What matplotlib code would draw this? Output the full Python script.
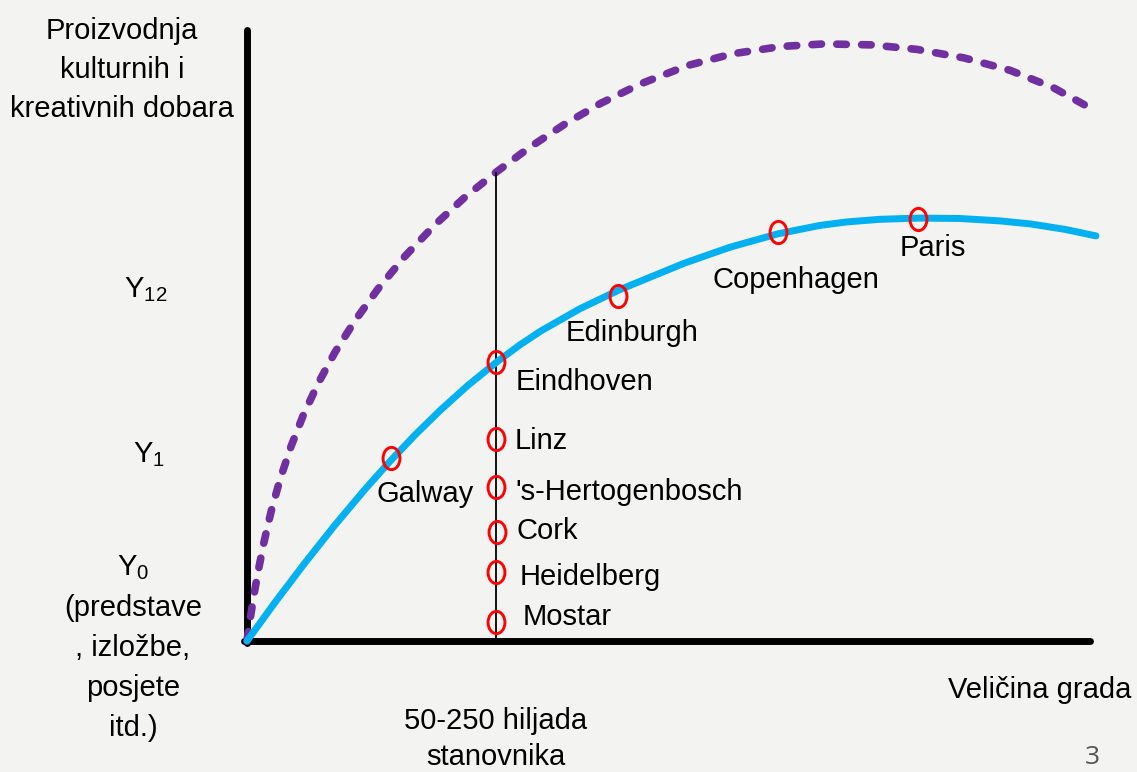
import numpy as np
import matplotlib

matplotlib.use("Agg")
import matplotlib.pyplot as plt
from matplotlib.path import Path
from matplotlib.transforms import Affine2D

plt.rcParams["font.family"] = ["Liberation Sans", "DejaVu Sans"]
plt.rcParams["mathtext.fontset"] = "custom"
plt.rcParams["mathtext.rm"] = "Liberation Sans"

# conceptual curves (x = city size, y = cultural production)
blue_x = [0, 28, 58, 88, 118, 143, 168, 193, 221, 249, 273, 294, 333, 372, 437,
          483, 531, 573, 600, 633, 672, 713, 753, 784, 818, 849]
blue_y = [0, 38.6, 78.2, 116, 151.7, 179.7, 206, 230.5, 255.7, 278.4, 296.2,
          310.1, 332.3, 351, 377.7, 393.8, 407.2, 415.6, 419.1, 421.7, 422.9,
          422.5, 420.1, 417, 411.6, 405.1]

purple_x = [0, 3, 7, 11, 17, 24, 33, 44, 56, 71, 88, 108, 131, 158, 188, 218, 250,
            283, 318, 353, 393, 441, 486, 534, 577, 625, 670, 717, 763, 806, 850]
purple_y = [0, 21, 46.2, 69, 99, 129.1, 161.5, 194.5, 225.1, 257.4, 288.8, 320.4,
            352.1, 384.8, 416.3, 443.9, 469.5, 493.9, 517, 537.3, 556.9, 575.6,
            587.3, 594.5, 597.1, 596.1, 591.6, 583.1, 570.7, 553.5, 529.3]

cities = ["Galway", "Eindhoven", "Edinburgh", "Copenhagen", "Paris",
          "Linz", "'s-Hertogenbosch", "Cork", "Heidelberg", "Mostar"]
city_x = [144, 249, 371, 531, 671, 249, 249, 250, 249, 249]
city_y = [183, 279, 345, 409, 422, 202, 154, 109, 69, 19]
# label offsets (left edge / baseline) relative to the marker
label_dx = [-14, 20, -52, -66, -18, 19, 19, 20, 24, 27]
label_dy = [-44, -28, -45, -56, -37, -10, -13, -7, -13, -3]

BG = "#f3f3f1"
fig = plt.figure(figsize=(11.37, 7.72), dpi=100, facecolor=BG)
ax = fig.add_axes([0, 0, 1, 1], facecolor=BG)
ax.set_xlim(-247, 890)
ax.set_ylim(-131, 641)

for s in ["top", "right"]:
    ax.spines[s].set_visible(False)
ax.spines["left"].set_position(("data", 0))
ax.spines["bottom"].set_position(("data", 0))
ax.spines["left"].set_bounds(-2, 611)
ax.spines["bottom"].set_bounds(-3, 843)
for s in ["left", "bottom"]:
    ax.spines[s].set_linewidth(5)
    ax.spines[s].set_capstyle("round")
    ax.spines[s].set_zorder(1)
ax.set_xticks([])
ax.set_yticks([])

ax.plot(purple_x, purple_y, color="#7030a0", lw=5.5, dashes=(1.25, 2.0),
        dash_capstyle="round", solid_joinstyle="round", zorder=2)
top = np.interp(city_x[1], purple_x, purple_y)
ax.vlines(city_x[1], 0, top, color="black", lw=1.3, zorder=2)
ax.plot(blue_x, blue_y, color="#00b0f0", lw=5, solid_capstyle="round",
        solid_joinstyle="round", zorder=3)

ellipse = Path.unit_circle().transformed(Affine2D().scale(0.76, 1.0))
ax.plot(city_x, city_y, ls="none", marker=ellipse, markersize=16,
        markerfacecolor="none", markeredgecolor="#ff0000", markeredgewidth=2.1,
        zorder=4)

fs = 21
for name, x, y, dx, dy in zip(cities, city_x, city_y, label_dx, label_dy):
    ax.text(x + dx, y + dy, name, fontsize=fs, ha="left", va="baseline")

ax.text(-125, 571, "Proizvodnja\nkulturnih i\nkreativnih dobara", fontsize=fs,
        ha="center", va="center", linespacing=1.5)

ax.text(-123, 344, r"$\mathregular{Y_{12}}$", fontsize=fs, ha="left", va="baseline")
ax.text(-114, 179, r"$\mathregular{Y_{1}}$", fontsize=fs, ha="left", va="baseline")
ax.text(-130, 66, r"$\mathregular{Y_{0}}$", fontsize=fs, ha="left", va="baseline")
ax.text(-114, -27, "(predstave\n, izložbe,\nposjete\nitd.)", fontsize=fs,
        ha="center", va="center", linespacing=1.55)

ax.text(793, -49, "Veličina grada", fontsize=fs, ha="center", va="center")
ax.text(249, -98, "50-250 hiljada\nstanovnika", fontsize=fs, ha="center",
        va="center", linespacing=1.35)
ax.text(845, -117, "3", fontsize=19, color="#555555", family="Open Sans",
        ha="center", va="center")

fig.savefig("out.png", dpi=100, facecolor=BG)
